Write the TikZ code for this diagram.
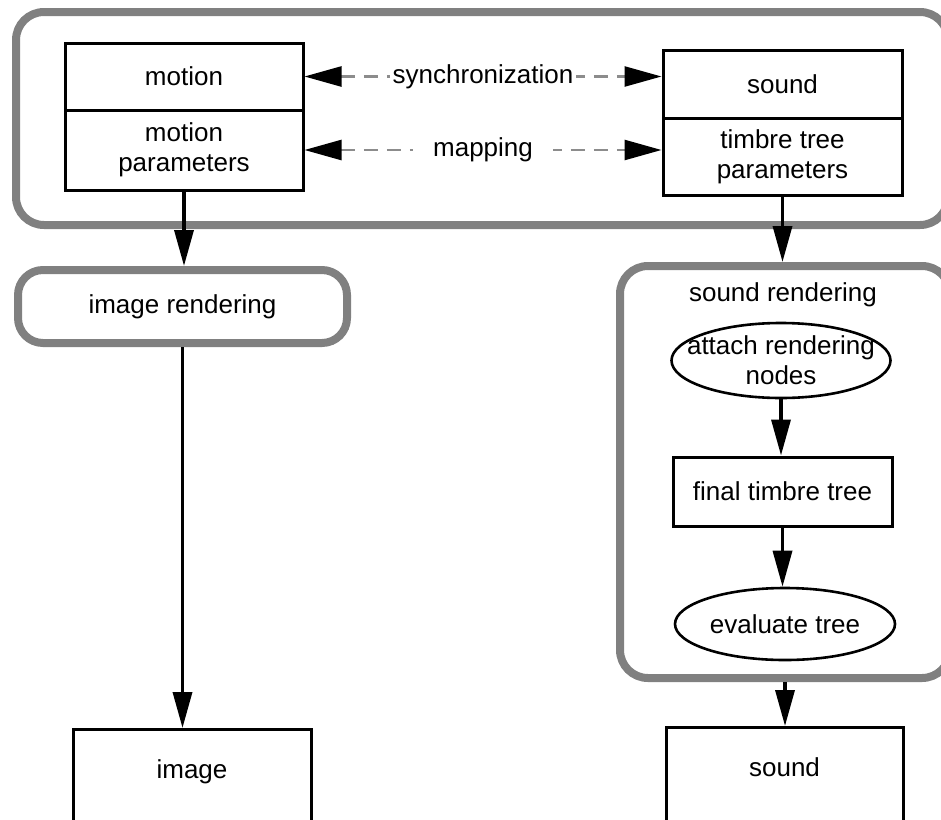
\documentclass[tikz,border=0pt]{standalone}
\usepackage{fontspec}
\setmainfont{Liberation Sans}
\usetikzlibrary{arrows.meta, positioning, shapes.geometric}
\definecolor{panelGray}{HTML}{808080}
\definecolor{linkGray}{HTML}{8C8C8C}

\begin{document}
\begin{tikzpicture}[x=1pt, y=-1pt, font=\fontsize{26}{30}\selectfont,
    panel/.style={draw=panelGray, line width=8pt, rounded corners=28pt},
    cell/.style={draw, line width=3pt, align=center, inner sep=0pt},
    oval/.style={ellipse, draw, line width=2.6pt, inner sep=0pt},
    outbox/.style={draw, line width=3pt, anchor=north, inner sep=0pt, text height=49pt, text depth=90pt},
    flow/.style={-{Triangle[length=36pt, width=19pt]}, line width=3.5pt},
    link/.style={{Triangle[length=37pt, width=20pt, color=black]}-{Triangle[length=37pt, width=20pt, color=black]},
      draw=linkGray, line width=2.5pt, dash pattern=on 14pt off 9pt},
    linklbl/.style={fill=white, inner xsep=3pt, inner ysep=2pt}]

  \useasboundingbox (0,0) rectangle (941,819);

  % grey containers
  \node[panel, minimum width=932pt, minimum height=213pt] (anim) at (482,118.5) {};
  \node[panel, rounded corners=25pt, minimum width=329pt, minimum height=73pt] (imgrender) at (182.5,306.5) {image rendering};
  \node[panel, minimum width=330pt, minimum height=412pt] (sndrender) at (785,472) {};
  \node (sndtitle) at (783,295) {sound rendering};

  % motion side and sound side
  \node[cell, minimum width=238pt, minimum height=67pt] (motion)    at (184,76.5)   {motion};
  \node[cell, minimum width=238pt, minimum height=80pt] (motionpar) at (184,150)    {motion\\parameters};
  \node[cell, minimum width=239pt, minimum height=68pt] (sound)     at (782.5,84)   {sound};
  \node[cell, minimum width=239pt, minimum height=77pt] (timbrepar) at (782.5,156.5) {timbre tree\\parameters};

  \node[oval, minimum width=219pt, minimum height=75pt,
        label={[align=center]center:attach rendering\\nodes}] (attach) at (781,360.5) {};
  \node[cell, minimum width=219pt, minimum height=69pt] (final) at (782.5,491.5) {final timbre tree};
  \node[oval, minimum width=220pt, minimum height=72pt,
        label=center:evaluate tree] (evaluate) at (785,624) {};

  \node[outbox, minimum width=238pt] (image)    at (192,728)   {image};
  \node[outbox, minimum width=237pt] (soundout) at (784.5,726) {sound};

  \draw[link] (motion.east) -- (motion.east -| sound.west)
    node[linklbl, midway] (sync) {synchronization};
  \draw[link] (motionpar.east) -- (motionpar.east -| timbrepar.west)
    node[linklbl, inner xsep=20pt, midway] (map) {mapping};

  \draw[flow] (motionpar.south) -- (motionpar.south |- imgrender.north);
  \draw[flow] (imgrender.south) -- (imgrender.south |- image.north);
  \draw[flow] (timbrepar.south) -- (timbrepar.south |- sndrender.north);
  \foreach \a/\b in {attach/final,final/evaluate} {
    \draw[flow] (\a.south) -- (\a.south |- \b.north);
  }
  \draw[flow] (sndrender.south) -- (sndrender.south |- soundout.north);
\end{tikzpicture}
\end{document}
